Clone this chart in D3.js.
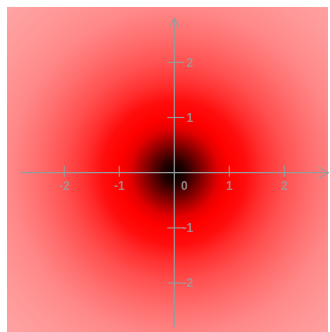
<!DOCTYPE html>
<html>
<head>
<meta charset="utf-8">
<script src="https://cdn.jsdelivr.net/npm/d3@7/dist/d3.min.js"></script>
<style>
  html, body { margin: 0; padding: 0; background: #fff; }
  svg { display: block; }
</style>
</head>
<body>
<svg id="chart" width="330" height="332"></svg>
<script>
// Radial density: distance from the origin (in axis units) and the colour at that distance
const radii  = [0, 0.2, 0.4, 0.6, 0.8, 1.0, 1.3, 1.6, 2.0, 2.5, 3.0, 3.6, 4.4];
const shades = ["#000000", "#220000", "#620000", "#a40000", "#e40000", "#ff0000",
                "#ff0d0d", "#ff2e2e", "#ff5050", "#ff6f6f", "#ff8888", "#ff9898", "#ffa6a6"];

// Axis ticks and their labels
const xTickValues = [-2, -1, 1, 2];
const xTickLabels = ["-2", "-1", "1", "2"];
const yTickValues = [2, 1, -1, -2];
const yTickLabels = ["2", "1", "-1", "-2"];
const originLabel = "0";
const axisExtent = [-2.8, 2.8];

const svg = d3.select("#chart");

// Plot frame and coordinate scales (55 px per unit)
const frame = { left: 7, top: 7, right: 328, bottom: 332 };
const x = d3.scaleLinear().domain([-3, 3]).range([174.3 - 165, 174.3 + 165]);
const y = d3.scaleLinear().domain([-3, 3]).range([172.7 + 165.6, 172.7 - 165.6]);

const defs = svg.append("defs");
const maxR = d3.max(radii);
const grad = defs.append("radialGradient")
  .attr("id", "density")
  .attr("gradientUnits", "userSpaceOnUse")
  .attr("cx", x(0)).attr("cy", y(0)).attr("fx", x(0)).attr("fy", y(0))
  .attr("r", x(maxR) - x(0));
grad.selectAll("stop")
  .data(radii.map((r, i) => ({ r, c: shades[i] })))
  .join("stop")
  .attr("offset", d => d.r / maxR)
  .attr("stop-color", d => d.c);

defs.append("filter").attr("id", "soft")
  .append("feGaussianBlur").attr("stdDeviation", 0.35);

// Density field
svg.append("rect")
  .attr("x", frame.left).attr("y", frame.top)
  .attr("width", frame.right - frame.left)
  .attr("height", frame.bottom - frame.top)
  .attr("fill", "url(#density)");

const axisColor = "#9a9a9a";
const g = svg.append("g").attr("filter", "url(#soft)");

// Horizontal axis with arrow head
g.append("line")
  .attr("x1", x(axisExtent[0])).attr("x2", x(axisExtent[1]))
  .attr("y1", y(0)).attr("y2", y(0))
  .attr("stroke", axisColor).attr("stroke-width", 1.2);
g.append("path")
  .attr("d", `M${x(axisExtent[1]) - 10},${y(0) - 6}L${x(axisExtent[1])},${y(0)}L${x(axisExtent[1]) - 10},${y(0) + 6}`)
  .attr("fill", "none").attr("stroke", axisColor).attr("stroke-width", 1.1);

// Vertical axis with arrow head
g.append("line")
  .attr("x1", x(0)).attr("x2", x(0))
  .attr("y1", y(axisExtent[0])).attr("y2", y(axisExtent[1]))
  .attr("stroke", axisColor).attr("stroke-width", 1.2);
g.append("path")
  .attr("d", `M${x(0) - 5},${y(axisExtent[1]) + 9}L${x(0)},${y(axisExtent[1])}L${x(0) + 5},${y(axisExtent[1]) + 9}`)
  .attr("fill", "none").attr("stroke", axisColor).attr("stroke-width", 1.1);

// X ticks and labels
g.selectAll(".xtick")
  .data(xTickValues)
  .join("line")
  .attr("class", "xtick")
  .attr("x1", d => x(d)).attr("x2", d => x(d))
  .attr("y1", y(0) - 7).attr("y2", y(0) + 4)
  .attr("stroke", axisColor).attr("stroke-width", 1.1);
g.selectAll(".xlabel")
  .data(xTickValues)
  .join("text")
  .attr("class", "xlabel")
  .attr("x", d => x(d))
  .attr("y", y(0) + 17)
  .attr("text-anchor", "middle")
  .text((d, i) => xTickLabels[i]);

// Y ticks and labels
g.selectAll(".ytick")
  .data(yTickValues)
  .join("line")
  .attr("class", "ytick")
  .attr("x1", x(0) - 7).attr("x2", x(0) + 10)
  .attr("y1", d => y(d)).attr("y2", d => y(d))
  .attr("stroke", axisColor).attr("stroke-width", 1.1);
g.selectAll(".ylabel")
  .data(yTickValues)
  .join("text")
  .attr("class", "ylabel")
  .attr("x", x(0) + 19)
  .attr("y", d => y(d))
  .attr("dy", "0.36em")
  .attr("text-anchor", "end")
  .text((d, i) => yTickLabels[i]);

// Origin label
g.append("text")
  .attr("x", x(0) + 10)
  .attr("y", y(0) + 17)
  .attr("text-anchor", "middle")
  .text(originLabel);

g.selectAll("text")
  .attr("font-family", "'Liberation Sans', Arial, sans-serif")
  .attr("font-size", 12)
  .attr("font-weight", "bold")
  .attr("fill", "#a09898")
  .attr("fill-opacity", 0.85);
</script>
</body>
</html>
